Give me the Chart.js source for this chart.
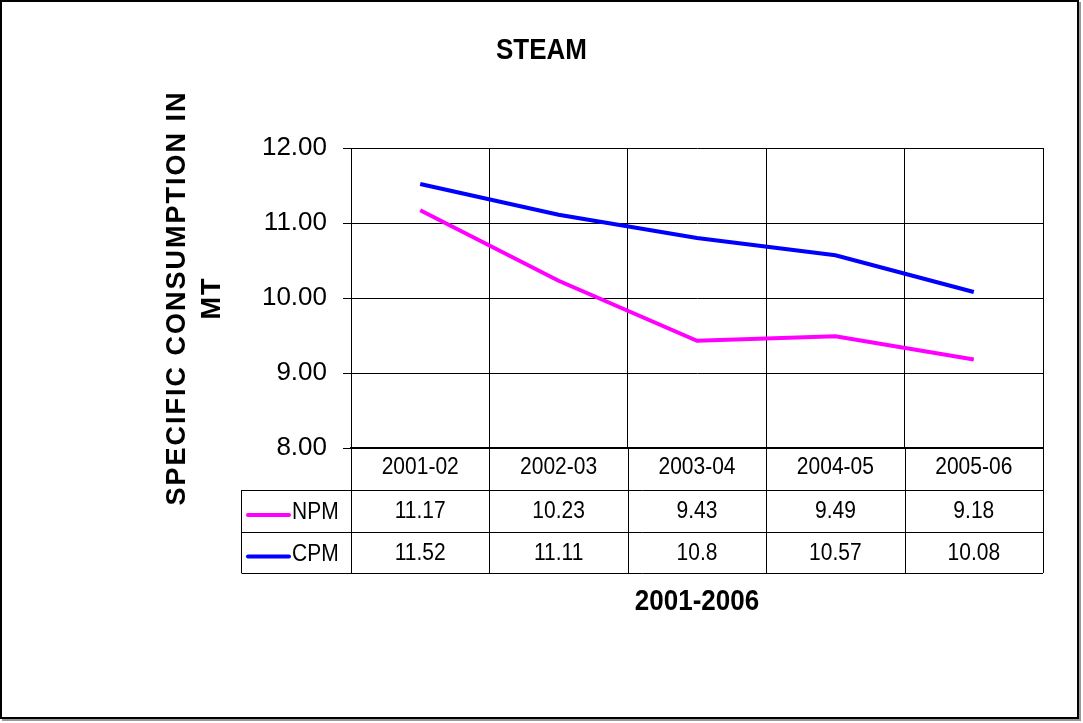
<!DOCTYPE html>
<html>
<head>
<meta charset="utf-8">
<script src="https://cdn.jsdelivr.net/npm/chart.js@4.4.0/dist/chart.umd.min.js"></script>
<style>
  html, body { margin: 0; padding: 0; background: #fff; }
  #wrap { width: 1083px; height: 723px; position: relative; }
</style>
</head>
<body>
<div id="wrap"><canvas id="chart"></canvas></div>
<script>
// chart data
const years = ['2001-02', '2002-03', '2003-04', '2004-05', '2005-06'];
const npm = [11.17, 10.23, 9.43, 9.49, 9.18];
const cpm = [11.52, 11.11, 10.8, 10.57, 10.08];
const npmLabels = ['11.17', '10.23', '9.43', '9.49', '9.18'];
const cpmLabels = ['11.52', '11.11', '10.8', '10.57', '10.08'];

const FONT = 'Liberation Sans, Arial, sans-serif';
const STRETCH = 1.12; // source picture is a bit taller than wide

function stretchText(ctx, text, x, y, font, align, rot) {
  ctx.save();
  ctx.font = font;
  ctx.fillStyle = '#000';
  ctx.textAlign = align || 'center';
  ctx.textBaseline = 'middle';
  ctx.translate(x, y);
  if (rot) {
    ctx.rotate(-Math.PI / 2);
    ctx.letterSpacing = '2px'; // axis title is spaced out
  } else {
    ctx.scale(1, STRETCH);
  }
  ctx.fillText(text, 0, 0);
  ctx.restore();
}

// draws titles, data table and the outer frame
const extras = {
  id: 'extras',
  afterDraw(chart) {
    const ctx = chart.ctx;
    const area = chart.chartArea;
    const xs = chart.scales.x;

    stretchText(ctx, 'STEAM', chart.width / 2, 51, 'bold 26px ' + FONT);
    stretchText(ctx, 'SPECIFIC CONSUMPTION IN', 178, 298, 'bold 27px ' + FONT, 'center', true);
    stretchText(ctx, 'MT', 213, 298, 'bold 27px ' + FONT, 'center', true);
    stretchText(ctx, '2001-2006', (area.left + area.right) / 2, 602, 'bold 26px ' + FONT);

    // table geometry
    const rows = [area.bottom, 490, 532, 573];
    const legendLeft = 241.5;
    const centers = years.map((y, i) => xs.getPixelForValue(i));
    const bounds = [area.left];
    for (let i = 0; i < centers.length - 1; i++) bounds.push((centers[i] + centers[i + 1]) / 2);
    bounds.push(area.right);

    ctx.save();
    ctx.strokeStyle = '#000';
    ctx.lineWidth = 1;
    ctx.beginPath();
    bounds.forEach(b => {
      const bx = Math.round(b) + 0.5;
      ctx.moveTo(bx, rows[0]);
      ctx.lineTo(bx, rows[3]);
    });
    ctx.moveTo(legendLeft, rows[1]);
    ctx.lineTo(legendLeft, rows[3]);
    [rows[1], rows[2], rows[3]].forEach(r => {
      ctx.moveTo(legendLeft, r + 0.5);
      ctx.lineTo(area.right, r + 0.5);
    });
    ctx.stroke();

    // legend keys
    const series = [
      { name: 'NPM', color: '#FF00FF', labels: npmLabels },
      { name: 'CPM', color: '#0000FF', labels: cpmLabels }
    ];
    series.forEach((s, k) => {
      const cy = (rows[k + 1] + rows[k + 2]) / 2;
      ctx.strokeStyle = s.color;
      ctx.lineWidth = 4;
      ctx.lineCap = 'round';
      ctx.beginPath();
      ctx.moveTo(248, cy + 4);
      ctx.lineTo(289, cy + 4);
      ctx.stroke();
      stretchText(ctx, s.name, 292, cy + 2, '21px ' + FONT, 'left');
      s.labels.forEach((t, i) => stretchText(ctx, t, centers[i], cy + 1, '21px ' + FONT));
    });
    years.forEach((t, i) => stretchText(ctx, t, centers[i], (rows[0] + rows[1]) / 2 - 1, '21px ' + FONT));

    // outer frame
    ctx.lineCap = 'butt';
    ctx.strokeStyle = '#000';
    ctx.lineWidth = 2;
    ctx.strokeRect(1, 1, 1077, 717);
    ctx.strokeStyle = '#999';
    ctx.lineWidth = 2;
    ctx.beginPath();
    ctx.moveTo(1080, 2);
    ctx.lineTo(1080, 720);
    ctx.lineTo(2, 720);
    ctx.stroke();
    ctx.restore();
  }
};

new Chart(document.getElementById('chart'), {
  type: 'line',
  data: {
    labels: years,
    datasets: [
      { label: 'NPM', data: npm, borderColor: '#FF00FF', borderWidth: 4, pointRadius: 0, tension: 0, fill: false },
      { label: 'CPM', data: cpm, borderColor: '#0000FF', borderWidth: 4, pointRadius: 0, tension: 0, fill: false }
    ]
  },
  options: {
    responsive: true,
    maintainAspectRatio: false,
    animation: false,
    layout: { padding: { left: 0, top: 148, right: 40, bottom: 275 } },
    plugins: {
      legend: { display: false },
      title: { display: false },
      tooltip: { enabled: false }
    },
    scales: {
      x: {
        offset: true,
        grid: { offset: true, color: '#000', lineWidth: 1, drawTicks: false },
        border: { color: '#000', width: 2 },
        ticks: { display: false },
        afterFit(scale) { scale.height = 0; }
      },
      y: {
        min: 8,
        max: 12,
        ticks: {
          stepSize: 1,
          padding: 16,
          color: '#000',
          font: { family: FONT, size: 26 },
          callback: v => v.toFixed(2)
        },
        grid: { color: '#000', lineWidth: 1, tickLength: 8 },
        border: { color: '#000', width: 1 },
        afterFit(scale) { scale.width = 351; }
      }
    }
  },
  plugins: [extras]
});
</script>
</body>
</html>
